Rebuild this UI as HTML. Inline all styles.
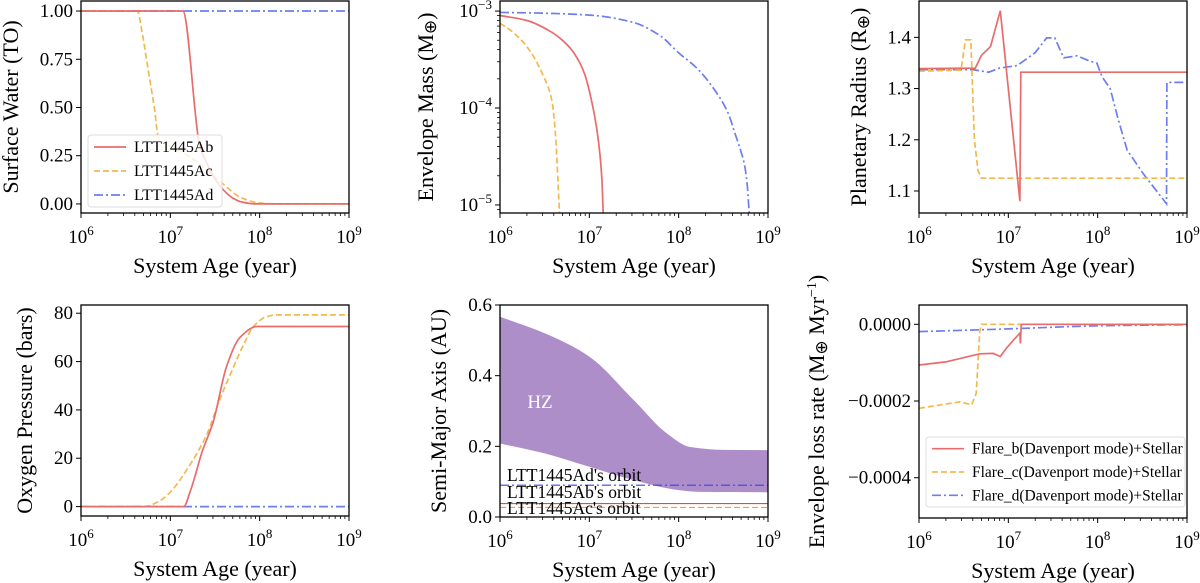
<!DOCTYPE html>
<html><head><meta charset="utf-8"><style>
html,body{margin:0;padding:0;background:#fff;}
svg{display:block;font-family:"Liberation Serif",serif;}
</style></head><body>
<svg id="fig" width="1200" height="583" viewBox="0 0 1200 583" xmlns="http://www.w3.org/2000/svg"></svg>
<script>
// ---- data: [log10(age), value] ----
const waterB=[[6,1],[7.14,1],[7.33,0.3],[7.4,0.22],[7.5,0.13],[7.6,0.07],[7.7,0.03],[7.8,0.01],[7.95,0],[9,0]];
const waterC=[[6,1],[6.63,1],[6.68,0.9],[6.75,0.7],[6.82,0.5],[6.87,0.34],[7,0.3],[7.2,0.25],[7.4,0.18],[7.6,0.1],[7.8,0.03],[8.0,0.005],[8.15,0],[9,0]];
const waterD=[[6,1],[9,1]];
const massB=[[6,9e-4],[6.3,8e-4],[6.56,6.2e-4],[6.7,5e-4],[6.79,4.1e-4],[6.87,3.2e-4],[6.95,2.2e-4],[7.02,1.25e-4],[7.09,5.5e-5],[7.14,1.9e-5],[7.155,8.3e-6]];
const massC=[[6,7.5e-4],[6.15,6e-4],[6.3,4.3e-4],[6.49,2.1e-4],[6.58,1.2e-4],[6.62,5.5e-5],[6.65,1.66e-5],[6.665,8.3e-6]];
const massD=[[6,9.7e-4],[6.5,9.5e-4],[7,9.1e-4],[7.5,7.6e-4],[7.8,5.5e-4],[8,3.7e-4],[8.2,2.6e-4],[8.4,1.55e-4],[8.55,9e-5],[8.63,5.5e-5],[8.7,3.5e-5],[8.74,2.5e-5],[8.77,1.5e-5],[8.79,8.3e-6]];
const radB=[[6,1.339],[6.63,1.34],[6.7,1.365],[6.8,1.382],[6.91,1.452],[7.13,1.08],[7.14,1.332],[9,1.332]];
const radC=[[6,1.334],[6.47,1.336],[6.52,1.395],[6.58,1.395],[6.62,1.2],[6.66,1.14],[6.7,1.125],[9,1.125]];
const radD=[[6,1.337],[6.6,1.337],[6.78,1.332],[6.9,1.34],[7.1,1.345],[7.3,1.37],[7.43,1.399],[7.52,1.399],[7.62,1.36],[7.77,1.364],[7.92,1.353],[7.99,1.35],[8.05,1.323],[8.14,1.3],[8.23,1.24],[8.33,1.18],[8.51,1.134],[8.77,1.075],[8.775,1.312],[9,1.312]];
const oxyB=[[6,0],[7.15,0],[7.22,6],[7.28,13],[7.35,22],[7.48,35],[7.63,58],[7.78,70],[7.97,74.5],[9,74.5]];
const oxyC=[[6,0],[6.7,0],[6.88,2.3],[7.0,6],[7.18,15],[7.41,30],[7.55,44],[7.71,58],[7.82,67],[7.93,74.5],[8.08,78.6],[8.19,79.3],[9,79.3]];
const oxyD=[[6,0],[9,0]];
const hzUpper=[[6,0.567],[6.5,0.52],[7,0.454],[7.5,0.33],[7.87,0.236],[8.13,0.198],[8.5,0.19],[9,0.189]];
const hzLower=[[6,0.208],[6.5,0.18],[7,0.142],[7.5,0.104],[8,0.076],[8.25,0.071],[9,0.07]];
const orbitValues=[0.09,0.038,0.027];
const orbitLabels=["LTT1445Ad's orbit","LTT1445Ab's orbit","LTT1445Ac's orbit"];
const lossB=[[6,-1.06e-4],[6.3,-9.8e-5],[6.68,-7.7e-5],[6.83,-7.6e-5],[6.91,-8.4e-5],[6.98,-6.2e-5],[7.05,-4.3e-5],[7.13,-2.3e-5],[7.135,-5e-5],[7.145,0],[9,0]];
const lossC=[[6,-2.19e-4],[6.46,-2.02e-4],[6.59,-2.1e-4],[6.64,-1.8e-4],[6.68,-2e-5],[6.7,0],[9,0]];
const lossD=[[6,-1.9e-5],[7,-1.2e-5],[8,-4e-6],[9,-1e-6]];
const legend1=["LTT1445Ab","LTT1445Ac","LTT1445Ad"];
const legend6=["Flare_b(Davenport mode)+Stellar","Flare_c(Davenport mode)+Stellar","Flare_d(Davenport mode)+Stellar"];
const ticks1=[0,0.25,0.5,0.75,1.0], ticks1L=["0.00","0.25","0.50","0.75","1.00"];
const ticks2=[-5,-4,-3];
const ticks3=[1.1,1.2,1.3,1.4], ticks3L=["1.1","1.2","1.3","1.4"];
const ticks4=[0,20,40,60,80];
const ticks5=[0,0.2,0.4,0.6], ticks5L=["0.0","0.2","0.4","0.6"];
const ticks6=[-0.0004,-0.0002,0], ticks6L=["\u22120.0004","\u22120.0002","0.0000"];

const NS="http://www.w3.org/2000/svg";
const svg=document.getElementById('fig');
const COL={b:"rgb(232,108,108)",c:"rgb(242,185,80)",d:"rgb(110,125,240)"};
const DASH={b:"",c:"6,3",d:"9,3,2,3"};
function mk(tag,attrs,parent){const e=document.createElementNS(NS,tag);for(const k in attrs)e.setAttribute(k,attrs[k]);(parent||svg).appendChild(e);return e;}

function monoPath(P,move){
  const n=P.length;if(n<3)return (move?'M':'L')+P.map(p=>p[0].toFixed(1)+','+p[1].toFixed(1)).join(' L');
  const dx=[],s=[];for(let i=0;i<n-1;i++){dx.push(P[i+1][0]-P[i][0]);s.push((P[i+1][1]-P[i][1])/(dx[i]||1e-6));}
  const m=[s[0]];for(let i=1;i<n-1;i++){m.push(s[i-1]*s[i]<=0?0:(3*(dx[i-1]+dx[i]))/((2*dx[i]+dx[i-1])/s[i-1]+(dx[i]+2*dx[i-1])/s[i]));}m.push(s[n-2]);
  let d=(move?'M':'L')+P[0][0].toFixed(1)+','+P[0][1].toFixed(1);
  for(let i=0;i<n-1;i++){const h=dx[i]/3;d+=' C'+(P[i][0]+h).toFixed(1)+','+(P[i][1]+m[i]*h).toFixed(1)+' '+(P[i+1][0]-h).toFixed(1)+','+(P[i+1][1]-m[i+1]*h).toFixed(1)+' '+P[i+1][0].toFixed(1)+','+P[i+1][1].toFixed(1);}
  return d;
}

function panel(p){
  const g=mk('g',{});
  
  
  p.g=g;
  p.sx=v=>p.x0+(v-6)/3*(p.x1-p.x0);
  p.sy=v=>{const t=p.log?Math.log10(v):v;return p.y1-(t-p.ymin)/(p.ymax-p.ymin)*(p.y1-p.y0);};
  return p;
}
function axes(p,yt,ylab,ytitle,ytx){
  const g=p.g;
  for(let d=6;d<=9;d++){
    const x=p.sx(d);
    mk('line',{x1:x,x2:x,y1:p.y1,y2:p.y1+5,stroke:'#000','stroke-width':1},g);
    const t=mk('text',{x:x,y:p.y1+30,'font-size':19,'text-anchor':'middle'},g);
    
    
    t.innerHTML='10<tspan dy="-8" font-size="13">'+d+'</tspan>';
    if(d<9)for(let m=2;m<=9;m++){const xm=p.sx(d+Math.log10(m));mk('line',{x1:xm,x2:xm,y1:p.y1,y2:p.y1+3,stroke:'#000','stroke-width':0.8},g);}
  }
  const xt=mk('text',{x:(p.x0+p.x1)/2,y:p.y1+60,'font-size':22,'text-anchor':'middle'},g);
  
  
  xt.textContent='System Age (year)';
  yt.forEach((v,i)=>{
    const y=p.log?p.y1-(v-p.ymin)/(p.ymax-p.ymin)*(p.y1-p.y0):p.sy(v);
    mk('line',{x1:p.x0-5,x2:p.x0,y1:y,y2:y,stroke:'#000','stroke-width':1},g);
    const t=mk('text',{x:p.x0-8,y:y+6,'font-size':19,'text-anchor':'end'},g);
    
    
    if(p.log)t.innerHTML='10<tspan dy="-8" font-size="13">\u2212'+(-v)+'</tspan>';
    else t.textContent=ylab[i];
  });
  if(p.log){for(let d=-6;d<-2;d++)for(let m=2;m<=9;m++){const lv=d+Math.log10(m);if(lv<p.ymin||lv>p.ymax)continue;const y=p.y1-(lv-p.ymin)/(p.ymax-p.ymin)*(p.y1-p.y0);mk('line',{x1:p.x0-3,x2:p.x0,y1:y,y2:y,stroke:'#000','stroke-width':0.8},g);}}
  const cy=(p.y0+p.y1)/2;
  const yl=mk('text',{x:ytx,y:cy,'font-size':22,'text-anchor':'middle',transform:'rotate(-90 '+ytx+' '+cy+')'},g);
  
  
  yl.innerHTML=ytitle;
}
function frame(p){
  const r=mk('rect',{x:p.x0,y:p.y0,width:p.x1-p.x0,height:p.y1-p.y0,fill:'none',stroke:'#000','stroke-width':1.3},p.g);
  
  
}
function series(p,data,k,name,smooth){
  const P=data.map(d=>[p.sx(d[0]),p.sy(d[1])]);
  const d=smooth?monoPath(P,true):'M'+P.map(q=>q[0].toFixed(1)+','+q[1].toFixed(1)).join(' L');
  const l=mk('path',{d:d,fill:'none',stroke:COL[k],'stroke-width':1.7,'stroke-dasharray':DASH[k],'clip-path':'url(#'+p.clip+')'},p.g);
  
  
}
function clip(p,id){
  const cp=mk('clipPath',{id:id});mk('rect',{x:p.x0,y:p.y0-1,width:p.x1-p.x0,height:p.y1-p.y0+1},cp);p.clip=id;
}
function legend(p,x,y,w,h,labels,fs){
  const lg=mk('g',{},p.g);
  
  
  mk('rect',{x:x,y:y,width:w,height:h,rx:3,fill:'#fff','fill-opacity':0.8,stroke:'#ddd'},lg);
  ['b','c','d'].forEach((k,i)=>{
    const yy=y+h/6+i*h/3;
    const ln=mk('line',{x1:x+6,x2:x+38,y1:yy,y2:yy,stroke:COL[k],'stroke-width':1.7,'stroke-dasharray':DASH[k]},lg);
    
    
    const t=mk('text',{x:x+46,y:yy+5,'font-size':fs},lg);
    
    
    t.textContent=labels[i];
  });
}
const ME='M<tspan font-size="17" dy="3">\u2295</tspan><tspan dy="-3">';

// Panel 1
const p1=panel({name:'surface-water-panel',x0:81,x1:349,y0:1,y1:213,ymin:-0.047,ymax:1.052});
clip(p1,'c1');axes(p1,ticks1,ticks1L,'Surface Water (TO)',18);
series(p1,waterD,'d','water-d',false);series(p1,waterC,'c','water-c',true);series(p1,waterB,'b','water-b',true);
legend(p1,88,135,134,72,legend1,16);frame(p1);

// Panel 2
const p2=panel({name:'envelope-mass-panel',x0:500,x1:768,y0:1,y1:213,log:true,ymin:-5.083,ymax:-2.896});
clip(p2,'c2');axes(p2,ticks2,null,'Envelope Mass ('+ME+')</tspan>',433);
series(p2,massD,'d','mass-d',true);series(p2,massC,'c','mass-c',true);series(p2,massB,'b','mass-b',true);frame(p2);

// Panel 3
const p3=panel({name:'planetary-radius-panel',x0:919,x1:1187,y0:1,y1:213,ymin:1.057,ymax:1.471});
clip(p3,'c3');axes(p3,ticks3,ticks3L,'Planetary Radius (R<tspan font-size="17" dy="3">\u2295</tspan><tspan dy="-3">)</tspan>',866);
series(p3,radD,'d','radius-d',false);series(p3,radC,'c','radius-c',false);series(p3,radB,'b','radius-b',false);frame(p3);

// Panel 4
const p4=panel({name:'oxygen-pressure-panel',x0:81,x1:349,y0:305,y1:516,ymin:-3.9,ymax:83.4});
clip(p4,'c4');axes(p4,ticks4,ticks4.map(String),'Oxygen Pressure (bars)',32);
series(p4,oxyD,'d','oxygen-d',false);series(p4,oxyC,'c','oxygen-c',true);series(p4,oxyB,'b','oxygen-b',true);frame(p4);

// Panel 5
const p5=panel({name:'semi-major-axis-panel',x0:500,x1:768,y0:305,y1:517,ymin:0,ymax:0.6});
clip(p5,'c5');axes(p5,ticks5,ticks5L,'Semi-Major Axis (AU)',446);
(function(){
  const up=hzUpper.map(d=>[p5.sx(d[0]),p5.sy(d[1])]);
  const lo=hzLower.slice().reverse().map(d=>[p5.sx(d[0]),p5.sy(d[1])]);
  const dUp=monoPath(up,true);
  const revPts=lo.map(q=>[-q[0],q[1]]);
  const dRev=monoPath(revPts,false).replace(/(-?\d+\.?\d*),(-?\d+\.?\d*)/g,(m,a,b)=>(-parseFloat(a)).toFixed(1)+','+b);
  const hz=mk('path',{d:dUp+' '+dRev+' Z',fill:'#ae8ec9'},p5.g);
  
  
  const t=mk('text',{x:540,y:408,'font-size':19,fill:'#fff','text-anchor':'middle'},p5.g);
  
  
  t.textContent='HZ';
  const keys=['d','b','c'];const cols={d:'#3344ee',b:'#ee4444',c:'#f2a030'};
  const ly=[481,498,514];
  orbitValues.forEach((v,i)=>{
    const y=p5.sy(v);
    const l=mk('line',{x1:p5.x0,x2:p5.x1,y1:y,y2:y,stroke:cols[keys[i]],'stroke-width':1.2,'stroke-dasharray':DASH[keys[i]]},p5.g);
    
    
    const tt=mk('text',{x:507,y:ly[i],'font-size':17.5},p5.g);
    
    
    tt.textContent=orbitLabels[i];
  });
})();
frame(p5);

// Panel 6
const p6=panel({name:'envelope-loss-rate-panel',x0:919,x1:1187,y0:305,y1:518,ymin:-5.05e-4,ymax:5.03e-5});
clip(p6,'c6');axes(p6,ticks6,ticks6L,'Envelope loss rate ('+ME+' Myr</tspan><tspan font-size="14" dy="-8">\u22121</tspan><tspan dy="8">)</tspan>',824);
series(p6,lossD,'d','loss-d',true);series(p6,lossC,'c','loss-c',false);series(p6,lossB,'b','loss-b',false);
legend(p6,926,437,259,70,legend6,15.5);frame(p6);
</script>
</body></html>
